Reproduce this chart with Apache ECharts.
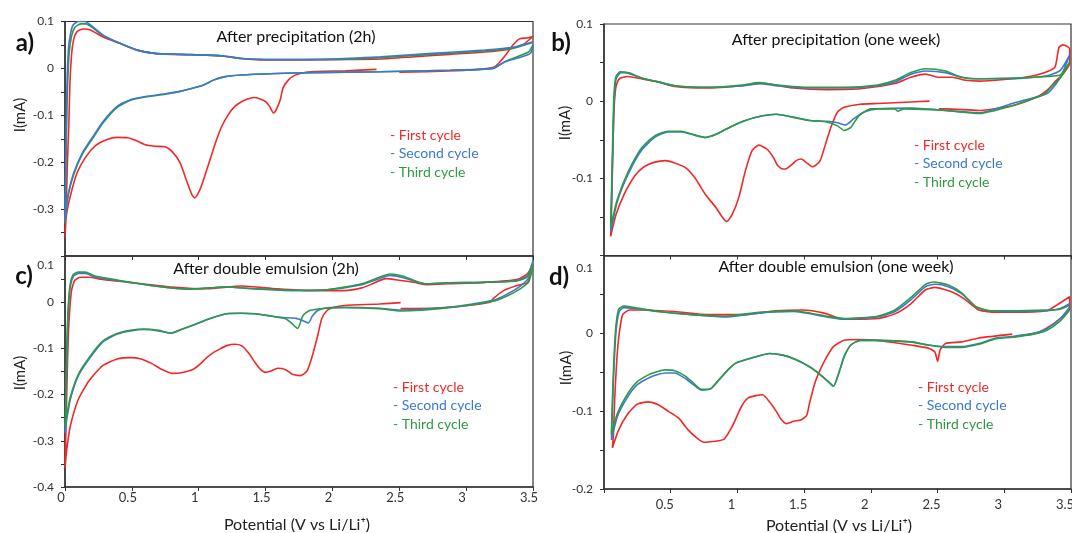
<!DOCTYPE html>
<html><head><meta charset="utf-8">
<script src="https://cdn.jsdelivr.net/npm/echarts@6/dist/echarts.min.js"></script>
<style>html,body{margin:0;padding:0;background:#fff}#c{width:1072px;height:533px}</style>
</head><body><div id="c"></div>
<script>
// ---------- DATA (V vs Li/Li+, mA) ----------
const xTicks = [0, 0.5, 1, 1.5, 2, 2.5, 3, 3.5];
const panelTitles = ["After precipitation (2h)", "After precipitation (one week)", "After double emulsion (2h)", "After double emulsion (one week)"];
const panelLetters = ["a)", "b)", "c)", "d)"];
const cycleNames = ["- First cycle", "- Second cycle", "- Third cycle"];
const yRanges = [[-0.4, 0.1], [-0.2, 0.1], [-0.4, 0.1], [-0.2, 0.1]];

const aFirst = [[2.33,-0.002],[2.10,-0.005],[1.84,-0.007],[1.76,-0.011],[1.71,-0.016],[1.67,-0.025],[1.63,-0.042],[1.61,-0.067],[1.58,-0.088],[1.56,-0.095],[1.53,-0.081],[1.50,-0.071],[1.46,-0.065],[1.41,-0.062],[1.36,-0.066],[1.32,-0.071],[1.27,-0.081],[1.22,-0.099],[1.17,-0.125],[1.13,-0.155],[1.09,-0.190],[1.05,-0.225],[1.01,-0.258],[0.97,-0.276],[0.95,-0.270],[0.91,-0.240],[0.86,-0.201],[0.80,-0.177],[0.75,-0.167],[0.67,-0.166],[0.60,-0.163],[0.54,-0.155],[0.47,-0.148],[0.39,-0.147],[0.31,-0.152],[0.23,-0.164],[0.16,-0.187],[0.09,-0.223],[0.04,-0.272],[0.01,-0.314],[0.0,-0.36],
[0.007,-0.318],[0.017,-0.21],[0.028,-0.125],[0.037,-0.032],[0.05,0.032],[0.067,0.064],[0.092,0.079],[0.137,0.084],[0.19,0.082],[0.285,0.067],[0.415,0.053],[0.54,0.039],[0.67,0.032],[0.80,0.030],[1.06,0.028],[1.19,0.026],[1.32,0.021],[1.45,0.018],[1.58,0.018],[1.84,0.018],[2.10,0.019],[2.36,0.020],[2.62,0.025],[2.88,0.030],[3.14,0.035],[3.30,0.040],[3.42,0.050],[3.5,0.068],
[3.46,0.065],[3.40,0.063],[3.35,0.050],[3.30,0.030],[3.24,0.010],[3.20,0.002],[3.0,-0.004],[2.7,-0.007],[2.5,-0.008]];
const aSecond = [[3.5,0.046],[3.48,0.032],[3.40,0.023],[3.29,0.014],[3.2,0.0],[2.88,-0.004],[2.36,-0.007],[1.84,-0.009],[1.58,-0.011],[1.32,-0.014],[1.19,-0.018],[1.11,-0.025],[1.04,-0.035],[0.96,-0.042],[0.86,-0.049],[0.75,-0.054],[0.60,-0.060],[0.49,-0.067],[0.39,-0.081],[0.285,-0.113],[0.21,-0.145],[0.13,-0.180],[0.065,-0.223],[0.026,-0.265],[0.005,-0.307],[0,-0.325],
[0.005,-0.21],[0.012,-0.068],[0.025,0.039],[0.042,0.075],[0.062,0.093],[0.10,0.100],[0.15,0.100],[0.19,0.093],[0.285,0.071],[0.415,0.053],[0.54,0.039],[0.67,0.032],[0.86,0.030],[1.17,0.027],[1.32,0.021],[1.58,0.019],[1.97,0.020],[2.36,0.025],[2.75,0.032],[3.14,0.039],[3.35,0.045],[3.5,0.057]];
const aThird = [[3.5,0.050],[3.47,0.036],[3.40,0.027],[3.30,0.016],[3.2,0.0],[2.88,-0.004],[2.36,-0.007],[1.84,-0.009],[1.58,-0.011],[1.32,-0.014],[1.19,-0.018],[1.11,-0.025],[1.04,-0.035],[0.96,-0.042],[0.86,-0.049],[0.75,-0.055],[0.60,-0.061],[0.49,-0.068],[0.39,-0.083],[0.285,-0.116],[0.21,-0.148],[0.13,-0.183],[0.065,-0.226],[0.026,-0.268],[0.005,-0.31],[0,-0.33],
[0.006,-0.22],[0.015,-0.08],[0.03,0.03],[0.05,0.07],[0.075,0.088],[0.12,0.095],[0.16,0.095],[0.20,0.088],[0.285,0.070],[0.415,0.053],[0.54,0.039],[0.67,0.032],[0.86,0.030],[1.17,0.027],[1.32,0.021],[1.58,0.019],[1.97,0.019],[2.36,0.023],[2.75,0.030],[3.14,0.037],[3.35,0.043],[3.5,0.055]];

const bFirst = [[2.44,0.0],[2.30,-0.001],[2.05,-0.003],[1.92,-0.004],[1.80,-0.008],[1.75,-0.014],[1.70,-0.034],[1.66,-0.056],[1.62,-0.077],[1.58,-0.084],[1.56,-0.085],[1.52,-0.080],[1.48,-0.075],[1.44,-0.077],[1.41,-0.082],[1.36,-0.088],[1.34,-0.088],[1.30,-0.083],[1.27,-0.073],[1.22,-0.062],[1.16,-0.057],[1.11,-0.064],[1.06,-0.090],[1.01,-0.125],[0.96,-0.147],[0.92,-0.156],[0.89,-0.151],[0.84,-0.138],[0.76,-0.121],[0.68,-0.099],[0.61,-0.086],[0.53,-0.080],[0.46,-0.077],[0.38,-0.079],[0.30,-0.085],[0.23,-0.097],[0.15,-0.121],[0.09,-0.147],[0.05,-0.175],
[0.058,-0.130],[0.066,-0.064],[0.076,-0.008],[0.089,0.018],[0.114,0.029],[0.177,0.032],[0.28,0.029],[0.405,0.025],[0.53,0.019],[0.78,0.017],[1.04,0.020],[1.19,0.023],[1.42,0.017],[1.67,0.015],[1.92,0.016],[2.18,0.023],[2.30,0.031],[2.41,0.035],[2.51,0.031],[2.61,0.031],[2.71,0.027],[2.81,0.026],[3.06,0.029],[3.22,0.033],[3.32,0.038],[3.38,0.044],[3.41,0.070],[3.44,0.073],[3.49,0.068],
[3.49,0.049],[3.44,0.035],[3.39,0.027],[3.32,0.014],[3.24,0.005],[3.06,-0.006],[2.81,-0.012],[2.56,-0.010],[2.51,-0.010]];
const bSecond = [[3.49,0.060],[3.44,0.038],[3.39,0.023],[3.32,0.010],[3.19,0.003],[3.06,-0.003],[2.81,-0.015],[2.56,-0.012],[2.30,-0.009],[2.05,-0.010],[1.95,-0.014],[1.87,-0.023],[1.81,-0.031],[1.75,-0.028],[1.67,-0.026],[1.54,-0.025],[1.42,-0.021],[1.29,-0.017],[1.19,-0.019],[1.06,-0.025],[0.94,-0.034],[0.84,-0.043],[0.76,-0.047],[0.68,-0.044],[0.58,-0.040],[0.48,-0.040],[0.38,-0.047],[0.28,-0.064],[0.18,-0.095],[0.10,-0.130],[0.05,-0.169],
[0.056,-0.13],[0.066,-0.064],[0.076,0.001],[0.091,0.029],[0.127,0.037],[0.177,0.037],[0.28,0.030],[0.405,0.025],[0.53,0.020],[0.78,0.018],[1.04,0.020],[1.16,0.023],[1.29,0.020],[1.54,0.017],[1.80,0.017],[2.05,0.020],[2.18,0.025],[2.30,0.035],[2.41,0.039],[2.56,0.037],[2.68,0.031],[2.81,0.029],[3.06,0.029],[3.32,0.033],[3.42,0.040],[3.49,0.060]];
const bThird = [[3.49,0.051],[3.42,0.030],[3.36,0.020],[3.30,0.009],[3.19,0.002],[3.06,-0.006],[2.81,-0.016],[2.56,-0.012],[2.25,-0.010],[2.20,-0.013],[2.18,-0.010],[2.00,-0.010],[1.91,-0.019],[1.85,-0.034],[1.80,-0.038],[1.75,-0.032],[1.67,-0.027],[1.54,-0.025],[1.42,-0.021],[1.29,-0.017],[1.19,-0.019],[1.06,-0.025],[0.94,-0.034],[0.84,-0.043],[0.76,-0.047],[0.68,-0.044],[0.58,-0.039],[0.48,-0.039],[0.38,-0.045],[0.28,-0.061],[0.18,-0.092],[0.10,-0.127],[0.05,-0.163],
[0.055,-0.13],[0.064,-0.06],[0.074,0.005],[0.088,0.031],[0.12,0.038],[0.17,0.037],[0.28,0.030],[0.405,0.025],[0.53,0.020],[0.78,0.018],[1.04,0.021],[1.16,0.024],[1.29,0.021],[1.54,0.018],[1.80,0.018],[2.05,0.021],[2.18,0.027],[2.30,0.037],[2.41,0.042],[2.56,0.039],[2.68,0.031],[2.81,0.029],[3.06,0.030],[3.32,0.032],[3.42,0.034],[3.49,0.051]];

const cFirst = [[2.51,-0.001],[2.35,-0.004],[2.09,-0.007],[2.01,-0.011],[1.96,-0.018],[1.92,-0.036],[1.89,-0.072],[1.85,-0.116],[1.81,-0.149],[1.76,-0.159],[1.70,-0.156],[1.65,-0.146],[1.59,-0.143],[1.54,-0.149],[1.50,-0.152],[1.46,-0.145],[1.42,-0.130],[1.37,-0.109],[1.32,-0.094],[1.27,-0.091],[1.21,-0.094],[1.16,-0.101],[1.11,-0.109],[1.06,-0.120],[1.01,-0.134],[0.96,-0.145],[0.88,-0.152],[0.80,-0.154],[0.72,-0.145],[0.65,-0.133],[0.57,-0.123],[0.49,-0.120],[0.39,-0.123],[0.28,-0.138],[0.18,-0.170],[0.10,-0.210],[0.04,-0.268],[0.013,-0.319],[0,-0.359],
[0.005,-0.304],[0.015,-0.174],[0.026,-0.065],[0.047,0.022],[0.072,0.047],[0.116,0.054],[0.18,0.054],[0.28,0.049],[0.54,0.041],[0.80,0.033],[1.06,0.029],[1.32,0.035],[1.58,0.029],[1.83,0.025],[2.09,0.025],[2.22,0.031],[2.30,0.040],[2.40,0.051],[2.51,0.047],[2.61,0.043],[2.71,0.038],[2.87,0.040],[3.13,0.043],[3.38,0.049],[3.46,0.062],[3.5,0.083],
[3.46,0.043],[3.38,0.036],[3.28,0.025],[3.20,0.007],[3.18,0.0],[2.87,-0.011],[2.61,-0.014],[2.51,-0.014]];
const cSecond = [[3.5,0.09],[3.47,0.054],[3.41,0.036],[3.31,0.018],[3.20,0.004],[2.87,-0.011],[2.51,-0.017],[2.35,-0.013],[2.09,-0.011],[1.96,-0.012],[1.89,-0.018],[1.85,-0.030],[1.82,-0.045],[1.78,-0.040],[1.73,-0.035],[1.63,-0.033],[1.52,-0.029],[1.42,-0.025],[1.32,-0.024],[1.21,-0.025],[1.08,-0.036],[0.98,-0.047],[0.88,-0.058],[0.79,-0.067],[0.70,-0.062],[0.59,-0.059],[0.49,-0.062],[0.39,-0.069],[0.28,-0.087],[0.18,-0.123],[0.10,-0.159],[0.04,-0.210],[0.013,-0.254],[0,-0.283],
[0.005,-0.246],[0.015,-0.101],[0.026,-0.014],[0.041,0.036],[0.065,0.057],[0.10,0.062],[0.155,0.062],[0.23,0.054],[0.41,0.046],[0.67,0.035],[0.93,0.028],[1.19,0.033],[1.45,0.028],[1.70,0.025],[1.96,0.027],[2.22,0.038],[2.35,0.051],[2.43,0.058],[2.53,0.053],[2.69,0.040],[2.87,0.042],[3.13,0.043],[3.38,0.047],[3.46,0.058],[3.5,0.09]];
const cThird = [[3.5,0.083],[3.47,0.045],[3.41,0.030],[3.31,0.014],[3.20,0.002],[2.87,-0.012],[2.51,-0.019],[2.35,-0.014],[2.09,-0.012],[1.96,-0.013],[1.83,-0.018],[1.78,-0.029],[1.74,-0.057],[1.70,-0.047],[1.65,-0.036],[1.52,-0.029],[1.42,-0.025],[1.32,-0.024],[1.21,-0.025],[1.08,-0.036],[0.98,-0.047],[0.88,-0.058],[0.79,-0.067],[0.70,-0.061],[0.59,-0.058],[0.49,-0.061],[0.39,-0.068],[0.28,-0.085],[0.18,-0.120],[0.10,-0.156],[0.04,-0.205],[0.013,-0.245],[0,-0.27],
[0.005,-0.23],[0.014,-0.09],[0.025,-0.005],[0.04,0.040],[0.062,0.060],[0.10,0.065],[0.15,0.065],[0.23,0.056],[0.41,0.047],[0.67,0.035],[0.93,0.028],[1.19,0.033],[1.45,0.029],[1.70,0.026],[1.96,0.027],[2.22,0.040],[2.35,0.054],[2.43,0.061],[2.53,0.056],[2.69,0.040],[2.87,0.042],[3.13,0.043],[3.38,0.046],[3.46,0.055],[3.5,0.083]];

const dFirst = [[3.06,-0.001],[2.81,-0.006],[2.68,-0.011],[2.56,-0.013],[2.52,-0.021],[2.50,-0.036],[2.48,-0.024],[2.43,-0.019],[2.30,-0.015],[2.18,-0.012],[2.05,-0.009],[1.92,-0.008],[1.80,-0.009],[1.72,-0.017],[1.67,-0.030],[1.62,-0.047],[1.58,-0.064],[1.54,-0.090],[1.52,-0.105],[1.48,-0.111],[1.42,-0.113],[1.37,-0.116],[1.33,-0.111],[1.29,-0.100],[1.24,-0.088],[1.19,-0.079],[1.14,-0.080],[1.08,-0.083],[1.03,-0.094],[0.96,-0.120],[0.90,-0.136],[0.86,-0.138],[0.81,-0.139],[0.75,-0.140],[0.70,-0.135],[0.63,-0.124],[0.56,-0.109],[0.48,-0.100],[0.41,-0.092],[0.33,-0.088],[0.25,-0.091],[0.18,-0.103],[0.11,-0.124],[0.063,-0.147],
[0.07,-0.132],[0.08,-0.085],[0.096,-0.034],[0.114,0.0],[0.14,0.024],[0.19,0.030],[0.28,0.030],[0.53,0.028],[0.78,0.024],[1.04,0.024],[1.29,0.029],[1.49,0.030],[1.65,0.026],[1.80,0.018],[2.05,0.019],[2.18,0.025],[2.30,0.038],[2.41,0.056],[2.48,0.059],[2.61,0.053],[2.71,0.043],[2.81,0.030],[2.94,0.027],[3.06,0.027],[3.32,0.029],[3.39,0.036],[3.49,0.047],
[3.49,0.032],[3.39,0.015],[3.29,0.004],[3.23,0.0],[3.06,-0.005]];
const dSecond = [[3.49,0.034],[3.42,0.019],[3.32,0.006],[3.22,0.0],[3.06,-0.004],[2.94,-0.006],[2.81,-0.013],[2.68,-0.017],[2.56,-0.017],[2.43,-0.015],[2.30,-0.011],[2.05,-0.009],[1.92,-0.009],[1.85,-0.015],[1.80,-0.030],[1.76,-0.051],[1.72,-0.068],[1.68,-0.062],[1.62,-0.053],[1.54,-0.043],[1.44,-0.034],[1.34,-0.028],[1.24,-0.026],[1.14,-0.030],[1.06,-0.034],[0.99,-0.038],[0.94,-0.045],[0.86,-0.060],[0.80,-0.071],[0.73,-0.073],[0.67,-0.066],[0.61,-0.058],[0.53,-0.051],[0.46,-0.051],[0.35,-0.056],[0.25,-0.066],[0.18,-0.081],[0.10,-0.107],[0.056,-0.137],
[0.06,-0.137],[0.07,-0.064],[0.089,0.0],[0.114,0.028],[0.15,0.033],[0.23,0.032],[0.405,0.028],[0.66,0.024],[0.91,0.021],[1.16,0.026],[1.42,0.028],[1.67,0.021],[1.80,0.018],[2.05,0.021],[2.18,0.028],[2.30,0.043],[2.41,0.060],[2.48,0.063],[2.58,0.060],[2.68,0.051],[2.79,0.034],[2.89,0.029],[3.06,0.028],[3.32,0.029],[3.42,0.032],[3.49,0.038]];
const dThird = [[3.49,0.030],[3.42,0.016],[3.32,0.004],[3.22,-0.001],[3.06,-0.005],[2.94,-0.007],[2.81,-0.014],[2.68,-0.018],[2.56,-0.018],[2.43,-0.015],[2.30,-0.011],[2.05,-0.009],[1.92,-0.009],[1.85,-0.015],[1.80,-0.030],[1.76,-0.051],[1.72,-0.068],[1.68,-0.062],[1.62,-0.053],[1.54,-0.043],[1.44,-0.034],[1.34,-0.028],[1.24,-0.026],[1.14,-0.030],[1.06,-0.034],[0.99,-0.038],[0.94,-0.045],[0.86,-0.060],[0.80,-0.071],[0.73,-0.072],[0.67,-0.064],[0.61,-0.055],[0.53,-0.048],[0.46,-0.047],[0.35,-0.052],[0.25,-0.062],[0.18,-0.077],[0.10,-0.103],[0.055,-0.130],
[0.058,-0.130],[0.068,-0.060],[0.086,0.003],[0.11,0.031],[0.15,0.035],[0.23,0.033],[0.405,0.028],[0.66,0.024],[0.91,0.022],[1.16,0.027],[1.42,0.029],[1.67,0.022],[1.80,0.019],[2.05,0.022],[2.18,0.030],[2.30,0.046],[2.41,0.063],[2.47,0.066],[2.58,0.062],[2.68,0.052],[2.79,0.034],[2.89,0.029],[3.06,0.029],[3.32,0.030],[3.42,0.031],[3.49,0.036]];

const panelData = [[aFirst, aSecond, aThird], [bFirst, bSecond, bThird], [cFirst, cSecond, cThird], [dFirst, dSecond, dThird]];

// ---------- STYLE / LAYOUT ----------
const colors = ['#f02828', '#3b78d0', '#2e9a44'];
const FONT = 'Lato, "Open Sans", sans-serif';
const grids = [
  {left: 65, top: 21.5, width: 468, height: 234.5},
  {left: 604, top: 24, width: 467, height: 231.5},
  {left: 65, top: 256, width: 468, height: 231},
  {left: 604, top: 255.5, width: 467, height: 233.5}
];
const xLabelShow = [false, false, true, true];
const xLabelShift = [0, 0, 8, 12];
const fmt1 = v => String(Math.round(v * 10) / 10);

const chart = echarts.init(document.getElementById('c'), null, {renderer: 'canvas'});
const option = {
  animation: false,
  backgroundColor: '#fff',
  grid: grids.map(g => Object.assign({show: true, borderColor: '#333', borderWidth: 1.2, backgroundColor: 'transparent',
    containLabel: false, outerBoundsMode: 'none'}, g)),
  xAxis: grids.map((g, i) => ({
    type: 'value', gridIndex: i, min: 0, max: 3.5, interval: 0.5,
    axisLine: {show: true, onZero: false, lineStyle: {color: '#333', width: 1.5}},
    axisTick: {show: true, length: 4, lineStyle: {color: '#333'}},
    splitLine: {show: false},
    axisLabel: {show: xLabelShow[i], color: '#333', fontSize: 13, fontFamily: FONT, margin: i === 3 ? 9 : 4,
      showMaxLabel: true, hideOverlap: false, padding: [0, xLabelShift[i], 0, 0],
      formatter: v => (i === 3 && v === 0) ? '' : String(v)}
  })),
  yAxis: grids.map((g, i) => ({
    type: 'value', gridIndex: i, min: yRanges[i][0], max: yRanges[i][1], interval: 0.1,
    axisLine: {show: true, onZero: false, lineStyle: {color: '#333', width: 1.5}},
    axisTick: {show: true, length: 4, lineStyle: {color: '#333'}},
    minorTick: {show: true, splitNumber: 2, length: 4, lineStyle: {color: '#333'}},
    splitLine: {show: false},
    axisLabel: {color: '#333', fontSize: 12, fontFamily: FONT, margin: 11,
      formatter: v => {
        if (Math.abs(v - yRanges[i][0]) < 1e-9 && i < 2) return '';
        if (i >= 2 && Math.abs(v - yRanges[i][1]) < 1e-9) return '{low|' + fmt1(v) + '}';
        return fmt1(v);
      },
      rich: {low: {fontSize: 12, fontFamily: FONT, color: '#333', padding: [i === 3 ? 26 : 18, 0, 0, 0]}}}
  })),
  series: [],
  graphic: []
};
panelData.forEach((cycles, p) => {
  const order = p === 0 ? [0, 2, 1] : [0, 1, 2];
  order.forEach((k, j) => {
    option.series.push({
      type: 'line', xAxisIndex: p, yAxisIndex: p, data: cycles[k], name: cycleNames[k],
      showSymbol: false, smooth: 0.2, clip: true,
      lineStyle: {color: colors[k], width: 1.6}, z: 3 + j
    });
  });
});
// text: titles, panel letters, axis names, legends
const titlePos = [[296, 37], [836, 40], [266, 269], [836, 267]];
const letterPos = [[25, 43], [561, 43], [24, 276], [559, 277]];
const yNamePos = [[20, 115], [565, 123], [20, 373], [566, 368]];
const legendPos = [[390, 135], [914, 145], [393, 387], [918, 387]];
titlePos.forEach((pos, i) => option.graphic.push({type: 'text', x: pos[0], y: pos[1],
  style: {text: panelTitles[i], font: '16px ' + FONT, fill: '#111', textAlign: 'center', textVerticalAlign: 'middle'}}));
letterPos.forEach((pos, i) => option.graphic.push({type: 'text', x: pos[0], y: pos[1],
  style: {text: panelLetters[i], font: 'bold 24px ' + FONT, fill: '#111', textAlign: 'center', textVerticalAlign: 'middle'}}));
yNamePos.forEach((pos) => option.graphic.push({type: 'text', x: pos[0], y: pos[1], rotation: Math.PI / 2,
  style: {text: 'I(mA)', font: '15px ' + FONT, fill: '#222', textAlign: 'center', textVerticalAlign: 'middle'}}));
[[297, 525], [839, 526]].forEach(pos => option.graphic.push({type: 'text', x: pos[0], y: pos[1],
  style: {text: 'Potential (V vs Li/Li\u207A)', font: '16px ' + FONT, fill: '#222', textAlign: 'center', textVerticalAlign: 'middle'}}));
legendPos.forEach(pos => cycleNames.forEach((t, k) => option.graphic.push({type: 'text', x: pos[0], y: pos[1] + k * 18.7,
  style: {text: t, font: '14px ' + FONT, fill: colors[k], textAlign: 'left', textVerticalAlign: 'middle'}})));
chart.setOption(option);
</script></body></html>
